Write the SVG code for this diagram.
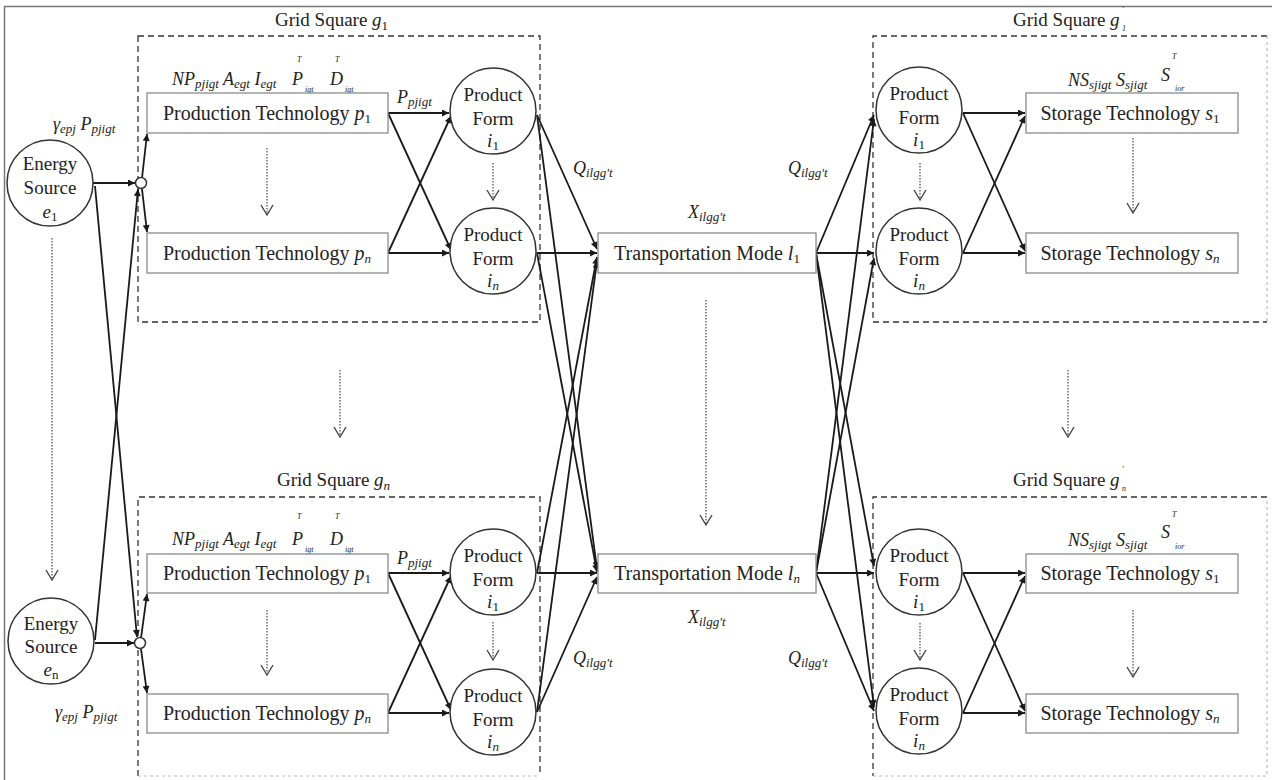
<svg xmlns="http://www.w3.org/2000/svg" width="1272" height="780" viewBox="0 0 1272 780">
<style>
.t{font-family:"Liberation Serif","Times New Roman",serif;font-size:19px;fill:#222}
.b{font-size:20px}
.m{font-family:"Liberation Serif","Times New Roman",serif;font-style:italic;font-size:18px;fill:#222}
.s{font-size:13px}
.ss{font-family:"Liberation Serif","Times New Roman",serif;font-style:italic;font-size:8px;fill:#222}
.box{fill:#fff;stroke:#8a8a8a;stroke-width:1.3}
.circ{fill:#fff;stroke:#333;stroke-width:1.5}
.dash{fill:none;stroke:#333;stroke-width:1.3;stroke-dasharray:6,4}
.dashl{fill:none;stroke:#bbb;stroke-width:1.2;stroke-dasharray:3,3}
.c{fill:none;stroke:#1a1a1a;stroke-width:1.8;marker-end:url(#ah)}
.dot{fill:none;stroke:#555;stroke-width:1.3;stroke-dasharray:1.5,1.5}
.vh{fill:none;stroke:#444;stroke-width:1.4}
</style>
<defs>
<marker id="ah" viewBox="0 0 10 10" refX="10" refY="5" markerWidth="11" markerHeight="7" orient="auto" markerUnits="userSpaceOnUse"><path d="M0,0 L10,5 L0,10 z" fill="#1a1a1a"/></marker>
</defs>
<rect width="1272" height="780" fill="#fff"/>
<path d="M4.5,780 V6.5 H1272" fill="none" stroke="#777" stroke-width="1.5"/>

<g id="grid-boxes">
<rect class="dash" x="138" y="36" width="402" height="286"/>
<path class="dash" d="M138,776 V497 H540 V776"/>
<path class="dashl" d="M138,776 H540"/>
<path class="dash" d="M1267,36 H873 V322 H1267"/>
<path class="dashl" d="M1267,36 V322"/>
<path class="dash" d="M1267,497 H873 V776"/>
<path class="dashl" d="M873,776 H1267 V497"/>
<text class="t" x="275" y="26">Grid Square <tspan font-style="italic">g</tspan><tspan class="s" dy="4">1</tspan></text>
<text class="t" x="277" y="486">Grid Square <tspan font-style="italic">g</tspan><tspan class="s" font-style="italic" dy="4">n</tspan></text>
<text class="t" x="1013" y="26">Grid Square  <tspan font-style="italic">g</tspan></text>
<text class="ss" x="1122" y="12">'</text><text class="ss" x="1122" y="31">1</text>
<text class="t" x="1013" y="486">Grid Square  <tspan font-style="italic">g</tspan></text>
<text class="ss" x="1122" y="472">'</text><text class="ss" x="1122" y="491">n</text>
</g>

<g id="connectors">
<path class="c" d="M93,183 L135,183"/>
<path class="c" d="M95,643 L134,643"/>
<path class="c" d="M95,186 L137,637"/>
<path class="c" d="M95,640 L138,189"/>
<path class="c" d="M142,178 L147,134"/>
<path class="c" d="M142,189 L147,232"/>
<path class="c" d="M141,638 L147,594"/>
<path class="c" d="M141,649 L147,693"/>

<path class="c" d="M388,113 L449,113"/>
<path class="c" d="M388,113 L451,250"/>
<path class="c" d="M388,253 L451,116"/>
<path class="c" d="M388,253 L449,253"/>
<path class="c" d="M388,573 L449,573"/>
<path class="c" d="M388,573 L451,710"/>
<path class="c" d="M388,713 L451,576"/>
<path class="c" d="M388,713 L449,713"/>

<path class="c" d="M537,115 L597,249"/>
<path class="c" d="M537,115 L597,569"/>
<path class="c" d="M537,253 L597,253"/>
<path class="c" d="M537,253 L597,572"/>
<path class="c" d="M537,573 L597,573"/>
<path class="c" d="M537,573 L597,257"/>
<path class="c" d="M537,712 L597,577"/>
<path class="c" d="M537,712 L597,261"/>

<path class="c" d="M816,253 L874,115"/>
<path class="c" d="M816,253 L874,253"/>
<path class="c" d="M816,253 L874,566"/>
<path class="c" d="M816,253 L874,707"/>
<path class="c" d="M816,573 L874,119"/>
<path class="c" d="M816,573 L874,258"/>
<path class="c" d="M816,573 L874,573"/>
<path class="c" d="M816,573 L874,711"/>

<path class="c" d="M963,113 L1025,113"/>
<path class="c" d="M963,113 L1025,251"/>
<path class="c" d="M963,253 L1025,116"/>
<path class="c" d="M963,253 L1025,253"/>
<path class="c" d="M963,573 L1025,573"/>
<path class="c" d="M963,573 L1025,711"/>
<path class="c" d="M963,713 L1025,576"/>
<path class="c" d="M963,713 L1025,713"/>
</g>

<g id="dotted-arrows">
<path class="dot" d="M52,238 V578"/><path class="vh" d="M46,570 L52,580 L58,570"/>
<path class="dot" d="M267,148 V213"/><path class="vh" d="M261,205 L267,215 L273,205"/>
<path class="dot" d="M493,163 V198"/><path class="vh" d="M487,190 L493,200 L499,190"/>
<path class="dot" d="M920,163 V198"/><path class="vh" d="M914,190 L920,200 L926,190"/>
<path class="dot" d="M1133,138 V211"/><path class="vh" d="M1127,203 L1133,213 L1139,203"/>
<path class="dot" d="M340,370 V435"/><path class="vh" d="M334,427 L340,437 L346,427"/>
<path class="dot" d="M706,300 V523"/><path class="vh" d="M700,515 L706,525 L712,515"/>
<path class="dot" d="M1068,370 V435"/><path class="vh" d="M1062,427 L1068,437 L1074,427"/>
<path class="dot" d="M267,610 V673"/><path class="vh" d="M261,665 L267,675 L273,665"/>
<path class="dot" d="M493,622 V658"/><path class="vh" d="M487,650 L493,660 L499,650"/>
<path class="dot" d="M920,623 V658"/><path class="vh" d="M914,650 L920,660 L926,650"/>
<path class="dot" d="M1133,610 V675"/><path class="vh" d="M1127,667 L1133,677 L1139,667"/>
</g>

<g id="energy-e1">
<circle class="circ" cx="50" cy="183" r="43"/>
<text class="t" x="50" y="170" text-anchor="middle">Energy</text>
<text class="t" x="50" y="194" text-anchor="middle">Source</text>
<text class="t" x="50" y="218" text-anchor="middle"><tspan font-style="italic">e</tspan><tspan class="s" dy="3">1</tspan></text>
</g>
<g id="energy-en">
<circle class="circ" cx="51" cy="641" r="43"/>
<text class="t" x="51" y="630" text-anchor="middle">Energy</text>
<text class="t" x="51" y="653" text-anchor="middle">Source</text>
<text class="t" x="51" y="676" text-anchor="middle"><tspan font-style="italic">e</tspan><tspan class="s" dy="3">n</tspan></text>
</g>
<g id="junction-1"><circle class="circ" cx="141" cy="183" r="5.5"/></g>
<g id="junction-2"><circle class="circ" cx="140" cy="643" r="5.5"/></g>

<g id="labels">
<text class="m" x="53" y="130">γ<tspan class="s" dy="3">epj</tspan><tspan dy="-3"> P</tspan><tspan class="s" dy="3">pjigt</tspan></text>
<text class="m" x="55" y="718">γ<tspan class="s" dy="3">epj</tspan><tspan dy="-3"> P</tspan><tspan class="s" dy="3">pjigt</tspan></text>

<text class="m" x="172" y="85">NP<tspan class="s" dy="3">pjigt</tspan><tspan dy="-3"> A</tspan><tspan class="s" dy="3">egt</tspan><tspan dy="-3"> I</tspan><tspan class="s" dy="3">egt</tspan></text>
<text class="m" x="292" y="85">P</text><text class="ss" x="297" y="62">T</text><text class="ss" x="305" y="92">igt</text>
<text class="m" x="330" y="85">D</text><text class="ss" x="335" y="62">T</text><text class="ss" x="345" y="92">igt</text>
<text class="m" x="172" y="545">NP<tspan class="s" dy="3">pjigt</tspan><tspan dy="-3"> A</tspan><tspan class="s" dy="3">egt</tspan><tspan dy="-3"> I</tspan><tspan class="s" dy="3">egt</tspan></text>
<text class="m" x="292" y="545">P</text><text class="ss" x="297" y="519">T</text><text class="ss" x="305" y="552">igt</text>
<text class="m" x="330" y="545">D</text><text class="ss" x="335" y="519">T</text><text class="ss" x="345" y="552">igt</text>

<text class="m" x="397" y="103">P<tspan class="s" dy="3">pjigt</tspan></text>
<text class="m" x="397" y="564">P<tspan class="s" dy="3">pjigt</tspan></text>

<text class="m" x="573" y="174">Q<tspan class="s" dy="3">ilgg't</tspan></text>
<text class="m" x="788" y="174">Q<tspan class="s" dy="3">ilgg't</tspan></text>
<text class="m" x="573" y="664">Q<tspan class="s" dy="3">ilgg't</tspan></text>
<text class="m" x="788" y="664">Q<tspan class="s" dy="3">ilgg't</tspan></text>
<text class="m" x="688" y="218">X<tspan class="s" dy="3">ilgg't</tspan></text>
<text class="m" x="688" y="623">X<tspan class="s" dy="3">ilgg't</tspan></text>

<text class="m" x="1068" y="86">NS<tspan class="s" dy="3">sjigt</tspan><tspan dy="-3"> S</tspan><tspan class="s" dy="3">sjigt</tspan></text>
<text class="m" x="1161" y="81" font-size="20">S</text><text class="ss" x="1172" y="59">T</text><text class="ss" x="1175" y="91">ior</text>
<text class="m" x="1068" y="546">NS<tspan class="s" dy="3">sjigt</tspan><tspan dy="-3"> S</tspan><tspan class="s" dy="3">sjigt</tspan></text>
<text class="m" x="1161" y="538" font-size="20">S</text><text class="ss" x="1172" y="517">T</text><text class="ss" x="1175" y="549">ior</text>
</g>

<g id="prod-p1-g1"><rect class="box" x="147" y="93" width="241" height="40"/><text class="t b" x="267" y="120" text-anchor="middle">Production Technology <tspan font-style="italic">p</tspan><tspan class="s" dy="3">1</tspan></text></g>
<g id="prod-pn-g1"><rect class="box" x="147" y="233" width="241" height="40"/><text class="t b" x="267" y="260" text-anchor="middle">Production Technology <tspan font-style="italic">p</tspan><tspan class="s" font-style="italic" dy="3">n</tspan></text></g>
<g id="prod-p1-gn"><rect class="box" x="147" y="554" width="241" height="39"/><text class="t b" x="267" y="580" text-anchor="middle">Production Technology <tspan font-style="italic">p</tspan><tspan class="s" dy="3">1</tspan></text></g>
<g id="prod-pn-gn"><rect class="box" x="147" y="694" width="241" height="39"/><text class="t b" x="267" y="720" text-anchor="middle">Production Technology <tspan font-style="italic">p</tspan><tspan class="s" font-style="italic" dy="3">n</tspan></text></g>

<g id="form-i1-g1"><circle class="circ" cx="493" cy="111" r="43"/><text class="t" x="493" y="101" text-anchor="middle">Product</text><text class="t" x="493" y="125" text-anchor="middle">Form</text><text class="t" x="493" y="147" text-anchor="middle"><tspan font-style="italic">i</tspan><tspan class="s" dy="3">1</tspan></text></g>
<g id="form-in-g1"><circle class="circ" cx="493" cy="251" r="43"/><text class="t" x="493" y="241" text-anchor="middle">Product</text><text class="t" x="493" y="265" text-anchor="middle">Form</text><text class="t" x="493" y="287" text-anchor="middle"><tspan font-style="italic">i</tspan><tspan class="s" font-style="italic" dy="3">n</tspan></text></g>
<g id="form-i1-gn"><circle class="circ" cx="493" cy="572" r="43"/><text class="t" x="493" y="562" text-anchor="middle">Product</text><text class="t" x="493" y="586" text-anchor="middle">Form</text><text class="t" x="493" y="608" text-anchor="middle"><tspan font-style="italic">i</tspan><tspan class="s" dy="3">1</tspan></text></g>
<g id="form-in-gn"><circle class="circ" cx="493" cy="712" r="43"/><text class="t" x="493" y="702" text-anchor="middle">Product</text><text class="t" x="493" y="726" text-anchor="middle">Form</text><text class="t" x="493" y="748" text-anchor="middle"><tspan font-style="italic">i</tspan><tspan class="s" font-style="italic" dy="3">n</tspan></text></g>

<g id="trans-l1"><rect class="box" x="598" y="233" width="218" height="40"/><text class="t b" x="707" y="260" text-anchor="middle">Transportation Mode <tspan font-style="italic">l</tspan><tspan class="s" dy="3">1</tspan></text></g>
<g id="trans-ln"><rect class="box" x="598" y="554" width="218" height="39"/><text class="t b" x="707" y="580" text-anchor="middle">Transportation Mode <tspan font-style="italic">l</tspan><tspan class="s" font-style="italic" dy="3">n</tspan></text></g>

<g id="form-i1-g1p"><circle class="circ" cx="919" cy="110" r="43"/><text class="t" x="919" y="100" text-anchor="middle">Product</text><text class="t" x="919" y="124" text-anchor="middle">Form</text><text class="t" x="919" y="146" text-anchor="middle"><tspan font-style="italic">i</tspan><tspan class="s" dy="3">1</tspan></text></g>
<g id="form-in-g1p"><circle class="circ" cx="919" cy="251" r="43"/><text class="t" x="919" y="241" text-anchor="middle">Product</text><text class="t" x="919" y="265" text-anchor="middle">Form</text><text class="t" x="919" y="287" text-anchor="middle"><tspan font-style="italic">i</tspan><tspan class="s" font-style="italic" dy="3">n</tspan></text></g>
<g id="form-i1-gnp"><circle class="circ" cx="919" cy="572" r="43"/><text class="t" x="919" y="562" text-anchor="middle">Product</text><text class="t" x="919" y="586" text-anchor="middle">Form</text><text class="t" x="919" y="608" text-anchor="middle"><tspan font-style="italic">i</tspan><tspan class="s" dy="3">1</tspan></text></g>
<g id="form-in-gnp"><circle class="circ" cx="919" cy="711" r="43"/><text class="t" x="919" y="701" text-anchor="middle">Product</text><text class="t" x="919" y="725" text-anchor="middle">Form</text><text class="t" x="919" y="747" text-anchor="middle"><tspan font-style="italic">i</tspan><tspan class="s" font-style="italic" dy="3">n</tspan></text></g>

<g id="stor-s1-g1p"><rect class="box" x="1026" y="93" width="212" height="40"/><text class="t b" x="1130" y="120" text-anchor="middle">Storage Technology <tspan font-style="italic">s</tspan><tspan class="s" dy="3">1</tspan></text></g>
<g id="stor-sn-g1p"><rect class="box" x="1026" y="233" width="212" height="40"/><text class="t b" x="1130" y="260" text-anchor="middle">Storage Technology <tspan font-style="italic">s</tspan><tspan class="s" font-style="italic" dy="3">n</tspan></text></g>
<g id="stor-s1-gnp"><rect class="box" x="1026" y="554" width="212" height="39"/><text class="t b" x="1130" y="580" text-anchor="middle">Storage Technology <tspan font-style="italic">s</tspan><tspan class="s" dy="3">1</tspan></text></g>
<g id="stor-sn-gnp"><rect class="box" x="1026" y="694" width="212" height="39"/><text class="t b" x="1130" y="720" text-anchor="middle">Storage Technology <tspan font-style="italic">s</tspan><tspan class="s" font-style="italic" dy="3">n</tspan></text></g>
</svg>
